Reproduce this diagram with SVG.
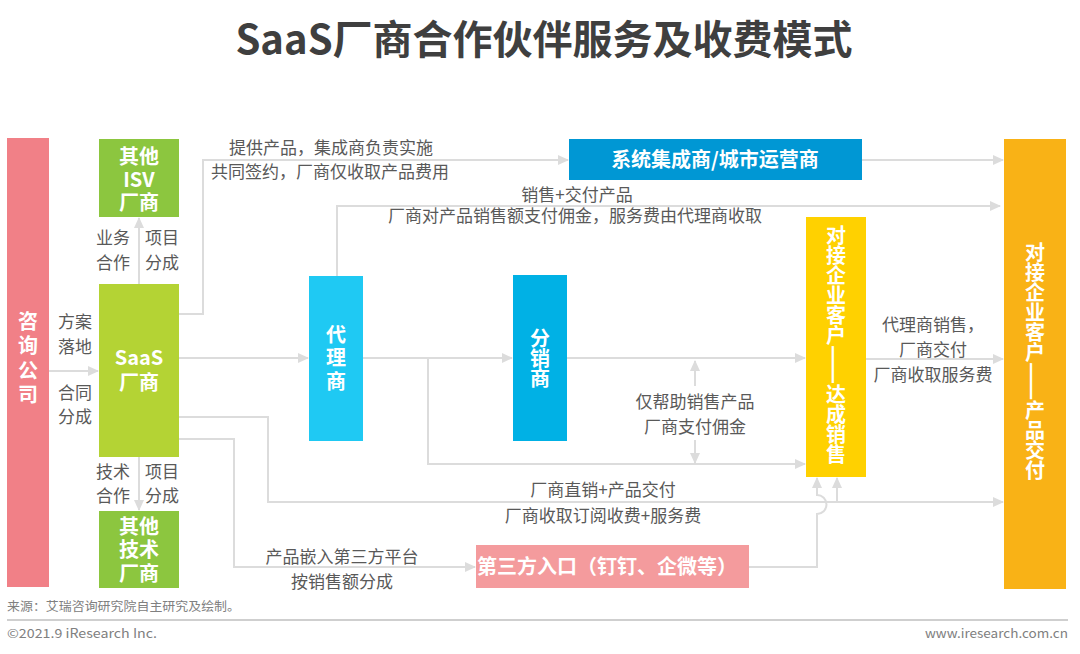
<svg xmlns="http://www.w3.org/2000/svg" width="1080" height="654" viewBox="0 0 1080 654">
<style>
text{font-family:"Noto Sans CJK SC","Noto Sans",sans-serif}
.t{font-size:40px;font-weight:bold;fill:#3F3F3F}
.n{font-size:20px;font-weight:bold;fill:#FFFFFF;text-anchor:middle}
.v{font-size:20px;font-weight:bold;fill:#FFFFFF;writing-mode:vertical-rl}
.l{font-size:17px;fill:#595959}
.m{text-anchor:middle}
.f{font-size:12.5px;fill:#808080}
.c{fill:none;stroke:#DCDCDC;stroke-width:2}
</style>
<defs>
<marker id="a" markerUnits="userSpaceOnUse" markerWidth="11" markerHeight="11" refX="10" refY="5" orient="auto">
<path d="M0,0 L11,5 L0,10 z" fill="#DCDCDC"/>
</marker>
</defs>
<rect width="1080" height="654" fill="#FFFFFF"/>
<text class="t" x="544" y="54" text-anchor="middle">SaaS厂商合作伙伴服务及收费模式</text>

<g id="connectors">
<path class="c" d="M139,284 V218" marker-end="url(#a)"/>
<path class="c" d="M139,457 V510" marker-end="url(#a)"/>
<path class="c" d="M49,371 H98" marker-end="url(#a)"/>
<path class="c" d="M179,314 H203 V160 H568" marker-end="url(#a)"/>
<path class="c" d="M862,160 H1003" marker-end="url(#a)"/>
<path class="c" d="M337,276 V206 H1000" marker-end="url(#a)"/>
<path class="c" d="M179,358 H308" marker-end="url(#a)"/>
<path class="c" d="M363,358 H512" marker-end="url(#a)"/>
<path class="c" d="M567,358 H805" marker-end="url(#a)"/>
<path class="c" d="M428,358 V464 H805" marker-end="url(#a)"/>
<path class="c" d="M695,386 V361" marker-end="url(#a)"/>
<path class="c" d="M695,440 V463" marker-end="url(#a)"/>
<path class="c" d="M866,359 H1003" marker-end="url(#a)"/>
<path class="c" d="M179,417 H268 V502 H1003" marker-end="url(#a)"/>
<path class="c" d="M837,502 V478" marker-end="url(#a)"/>
<path class="c" d="M179,439 H234 V567 H475" marker-end="url(#a)"/>
<path class="c" d="M749,567 H817 V514 A9.5,9.5 0 0 0 817,495 V478" marker-end="url(#a)"/>
</g>

<g id="labels">
<text class="l" x="229" y="154">提供产品，集成商负责实施</text>
<text class="l" x="211" y="178">共同签约，厂商仅收取产品费用</text>
<text class="l m" x="577" y="201">销售+交付产品</text>
<text class="l m" x="575" y="222">厂商对产品销售额支付佣金，服务费由代理商收取</text>
<text class="l m" x="113" y="244">业务</text>
<text class="l m" x="113" y="269">合作</text>
<text class="l m" x="162" y="244">项目</text>
<text class="l m" x="162" y="269">分成</text>
<text class="l m" x="75" y="328">方案</text>
<text class="l m" x="75" y="353">落地</text>
<text class="l m" x="75" y="399">合同</text>
<text class="l m" x="75" y="423">分成</text>
<text class="l m" x="113" y="478">技术</text>
<text class="l m" x="113" y="502">合作</text>
<text class="l m" x="162" y="478">项目</text>
<text class="l m" x="162" y="502">分成</text>
<text class="l m" x="695" y="408">仅帮助销售产品</text>
<text class="l m" x="695" y="433">厂商支付佣金</text>
<text class="l m" x="933" y="331">代理商销售，</text>
<text class="l m" x="933" y="356">厂商交付</text>
<text class="l m" x="933" y="381">厂商收取服务费</text>
<text class="l m" x="603" y="496">厂商直销+产品交付</text>
<text class="l m" x="603" y="522">厂商收取订阅收费+服务费</text>
<text class="l m" x="342" y="563">产品嵌入第三方平台</text>
<text class="l m" x="342" y="588">按销售额分成</text>
</g>

<g id="consult">
<rect x="7" y="138" width="42" height="449" fill="#F18087"/>
<text class="v" x="28" y="311" letter-spacing="4.5">咨询公司</text>
</g>

<g id="isv">
<rect x="99" y="139" width="80" height="78" fill="#8CC63F"/>
<text class="n"><tspan x="139" y="164">其他</tspan><tspan x="139" y="187">ISV</tspan><tspan x="139" y="210">厂商</tspan></text>
</g>

<g id="saas">
<rect x="99" y="284" width="80" height="173" fill="#B4D334"/>
<text class="n"><tspan x="139" y="365">SaaS</tspan><tspan x="139" y="390">厂商</tspan></text>
</g>

<g id="tech">
<rect x="99" y="511" width="80" height="77" fill="#8CC63F"/>
<text class="n"><tspan x="139" y="534">其他</tspan><tspan x="139" y="557">技术</tspan><tspan x="139" y="581">厂商</tspan></text>
</g>

<g id="agent">
<rect x="309" y="276" width="54" height="165" fill="#1FC9F3"/>
<text class="v" x="336" y="324" letter-spacing="3.5">代理商</text>
</g>

<g id="distributor">
<rect x="513" y="275" width="54" height="166" fill="#00B1E5"/>
<text class="v" x="540" y="328">分销商</text>
</g>

<g id="integrator">
<rect x="569" y="139" width="293" height="41" fill="#0097D4"/>
<text class="n" x="715" y="167">系统集成商/城市运营商</text>
</g>

<g id="sales">
<rect x="806" y="217" width="60" height="260" fill="#FFD100"/>
<text class="v" x="836" y="225">对接企业客户<tspan font-size="23">——</tspan>达成销售</text>
</g>

<g id="delivery">
<rect x="1004" y="139" width="62" height="450" fill="#F9B216"/>
<text class="v" x="1035" y="242">对接企业客户<tspan font-size="22.5">——</tspan>产品交付</text>
</g>

<g id="third">
<rect x="476" y="545" width="273" height="43" fill="#F49B9D"/>
<text class="n" x="607" y="574">第三方入口（钉钉、企微等）</text>
</g>

<g id="footer">
<text class="f" x="7" y="611" textLength="233" lengthAdjust="spacingAndGlyphs">来源：艾瑞咨询研究院自主研究及绘制。</text>
<line x1="7" y1="620" x2="1068" y2="620" stroke="#BFBFBF" stroke-width="1.5"/>
<text class="f" x="7" y="638" textLength="150" lengthAdjust="spacingAndGlyphs">©2021.9 iResearch Inc.</text>
<text class="f" x="1068" y="638" text-anchor="end" textLength="143" lengthAdjust="spacingAndGlyphs">www.iresearch.com.cn</text>
</g>
</svg>
